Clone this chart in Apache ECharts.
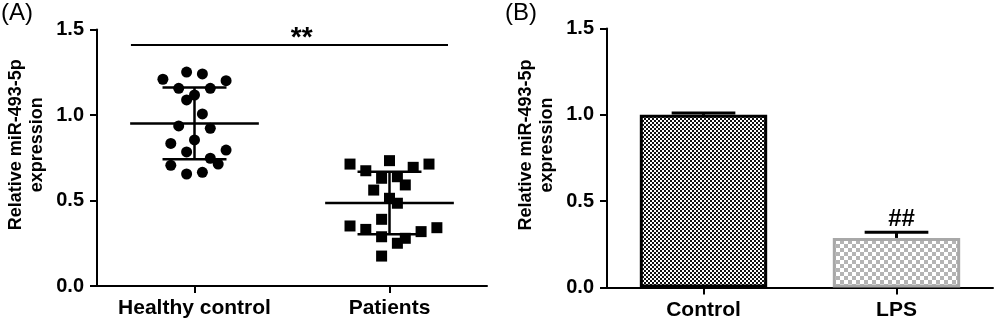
<!DOCTYPE html>
<html><head><meta charset="utf-8">
<script src="https://cdn.jsdelivr.net/npm/echarts@6/dist/echarts.min.js"></script>
<style>html,body{margin:0;padding:0;background:#fff}#c{width:1000px;height:323px}</style>
</head><body><div id="c"></div>
<script>
// ---------- DATA ----------
var groupsA = ['Healthy control', 'Patients'];
var healthyValues = [1.209,1.251,1.240,1.201,1.156,1.156,1.117,1.088,1.006,0.936,0.922,0.854,0.834,0.784,0.795,0.706,0.747,0.713,0.655,0.665];
var healthyJitter = [-4,-1,1,4,-2,2,0,-1,1,-2,2,0,-3,-1,4,-3,2,3,-1,1];
var patientValues = [0.713,0.733,0.713,0.674,0.694,0.630,0.639,0.561,0.591,0.513,0.484,0.390,0.351,0.331,0.341,0.318,0.288,0.279,0.250,0.175];
var patientJitter = [-5,0,5,-3,3,-1,1,-2,2,0,1,-1,-5,-3,6,4,-1,2,1,-1];
var meanA = [0.951, 0.485];
var sdA = [0.210, 0.183];
var sigA = {x0: 0.674, x1: 2.30, y: 1.41, labelX: 1.55, text: '**'};

var groupsB = ['Control', 'LPS'];
var meanB = [1.0, 0.287];
var errB = [0.01, 0.033];
var sigB = ['', '##'];

var yTicks = [0, 0.5, 1.0, 1.5];
var yName = 'Relative miR-493-5p\nexpression';

// ---------- STYLE HELPERS ----------
var JITTER_STEP = 0.0405;
var FONT = 'Liberation Sans, Arial, sans-serif';

function checker(size, c1, c2) {
  var cv = document.createElement('canvas');
  cv.width = size * 2; cv.height = size * 2;
  var ctx = cv.getContext('2d');
  ctx.fillStyle = c2; ctx.fillRect(0, 0, size * 2, size * 2);
  ctx.fillStyle = c1;
  ctx.fillRect(0, 0, size, size);
  ctx.fillRect(size, size, size, size);
  return cv;
}
var patDark = checker(2, '#ffffff', '#111111');
var patLight = checker(4, '#b4b4b4', '#ffffff');

function pts(vals, jit, center) {
  return vals.map(function (v, i) { return [center + jit[i] * JITTER_STEP, v]; });
}

var axisTextStyle = {color: '#000', fontWeight: 'bold', fontSize: 20, fontFamily: FONT};
function yAxisCfg(gi) {
  return {
    gridIndex: gi, type: 'value', min: yTicks[0], max: yTicks[yTicks.length - 1], interval: 0.5,
    name: yName, nameLocation: 'middle', nameRotate: 90, nameGap: 49,
    nameTextStyle: {color: '#000', fontWeight: 'bold', fontSize: 18, fontFamily: FONT, lineHeight: 21,
                    padding: [0, 0, 0, 26]},
    axisLine: {show: true, lineStyle: {color: '#000', width: 2}},
    axisTick: {show: true, length: 7, lineStyle: {color: '#000', width: 2}},
    axisLabel: Object.assign({margin: 13, formatter: function (v) { return v.toFixed(1); }}, axisTextStyle),
    splitLine: {show: false}
  };
}
function xCatCfg(gi, cats) {
  return {
    gridIndex: gi, type: 'category', data: cats, boundaryGap: true,
    axisLine: {show: true, lineStyle: {color: '#000', width: 2}},
    axisTick: {show: true, alignWithLabel: true, length: 7, lineStyle: {color: '#000', width: 2}},
    axisLabel: Object.assign({}, axisTextStyle, {fontSize: 21, margin: 12, interval: 0, hideOverlap: false}),
    splitLine: {show: false}
  };
}

var chart = echarts.init(document.getElementById('c'), null, {renderer: 'canvas'});
chart.setOption({
  animation: false,
  backgroundColor: '#fff',
  graphic: [
    {type: 'text', left: 1, top: 1, style: {text: '(A)', fontSize: 24, fontFamily: FONT, fill: '#000'}},
    {type: 'text', left: 505, top: 1, style: {text: '(B)', fontSize: 24, fontFamily: FONT, fill: '#000'}}
  ],
  grid: [
    {left: 97, top: 29.5, width: 390, height: 256.5},
    {left: 607, top: 28.5, width: 386, height: 259}
  ],
  xAxis: [
    xCatCfg(0, groupsA),
    {gridIndex: 0, type: 'value', min: 0.5, max: 2.5, show: false},
    xCatCfg(1, groupsB)
  ],
  yAxis: [yAxisCfg(0), yAxisCfg(1)],
  series: [
    {type: 'scatter', xAxisIndex: 1, yAxisIndex: 0, symbol: 'circle', symbolSize: 11,
     itemStyle: {color: '#000', opacity: 1}, data: pts(healthyValues, healthyJitter, 1)},
    {type: 'scatter', xAxisIndex: 1, yAxisIndex: 0, symbol: 'rect', symbolSize: 11,
     itemStyle: {color: '#000', opacity: 1}, data: pts(patientValues, patientJitter, 2)},
    {type: 'custom', xAxisIndex: 1, yAxisIndex: 0,
     data: meanA.map(function (m, i) { return [i + 1, m, sdA[i]]; }),
     renderItem: function (params, api) {
       var x = api.value(0), m = api.value(1), s = api.value(2);
       var c = api.coord([x, m]), t = api.coord([x, m + s]), b = api.coord([x, m - s]);
       var hw = api.size([0.33, 0])[0], cw = api.size([0.164, 0])[0];
       var st = {stroke: '#000', lineWidth: 2.5};
       return {type: 'group', children: [
         {type: 'line', shape: {x1: c[0] - hw, y1: c[1], x2: c[0] + hw, y2: c[1]}, style: st},
         {type: 'line', shape: {x1: t[0], y1: t[1], x2: b[0], y2: b[1]}, style: st},
         {type: 'line', shape: {x1: t[0] - cw, y1: t[1], x2: t[0] + cw, y2: t[1]}, style: st},
         {type: 'line', shape: {x1: b[0] - cw, y1: b[1], x2: b[0] + cw, y2: b[1]}, style: st}
       ]};
     }},
    {type: 'line', xAxisIndex: 1, yAxisIndex: 0, symbol: 'none',
     lineStyle: {color: '#000', width: 2},
     data: [[sigA.x0, sigA.y], [sigA.x1, sigA.y]]},
    {type: 'scatter', xAxisIndex: 1, yAxisIndex: 0, symbolSize: 0,
     itemStyle: {opacity: 1},
     data: [[sigA.labelX, sigA.y]],
     label: {show: true, position: 'top', distance: -7, formatter: sigA.text,
             color: '#000', fontSize: 28, fontWeight: 'bold', fontFamily: FONT}},
    {type: 'bar', xAxisIndex: 2, yAxisIndex: 1, barWidth: '66%',
     data: meanB.map(function (v, i) {
       return {value: v, itemStyle: i === 0
         ? {color: {image: patDark, repeat: 'repeat'}, borderColor: '#000', borderWidth: 3}
         : {color: {image: patLight, repeat: 'repeat'}, borderColor: '#a8a8a8', borderWidth: 3}};
     })},
    {type: 'custom', xAxisIndex: 2, yAxisIndex: 1,
     data: meanB.map(function (m, i) { return [i, m, errB[i]]; }),
     renderItem: function (params, api) {
       var i = api.value(0), m = api.value(1), e = api.value(2);
       var b = api.coord([i, m]), t = api.coord([i, m + e]);
       var cw = api.size([1, 0])[0] * 0.165;
       var st = {stroke: '#000', lineWidth: 3};
       return {type: 'group', children: [
         {type: 'line', shape: {x1: b[0], y1: b[1], x2: t[0], y2: t[1]}, style: st},
         {type: 'line', shape: {x1: t[0] - cw, y1: t[1], x2: t[0] + cw, y2: t[1]}, style: st},
         {type: 'text', style: {text: sigB[i], x: t[0] + 5, y: t[1] - 1, align: 'center', verticalAlign: 'bottom',
           fontSize: 24, fontWeight: 'bold', fontFamily: FONT, fill: '#000'}}
       ]};
     }}
  ]
});
</script></body></html>
